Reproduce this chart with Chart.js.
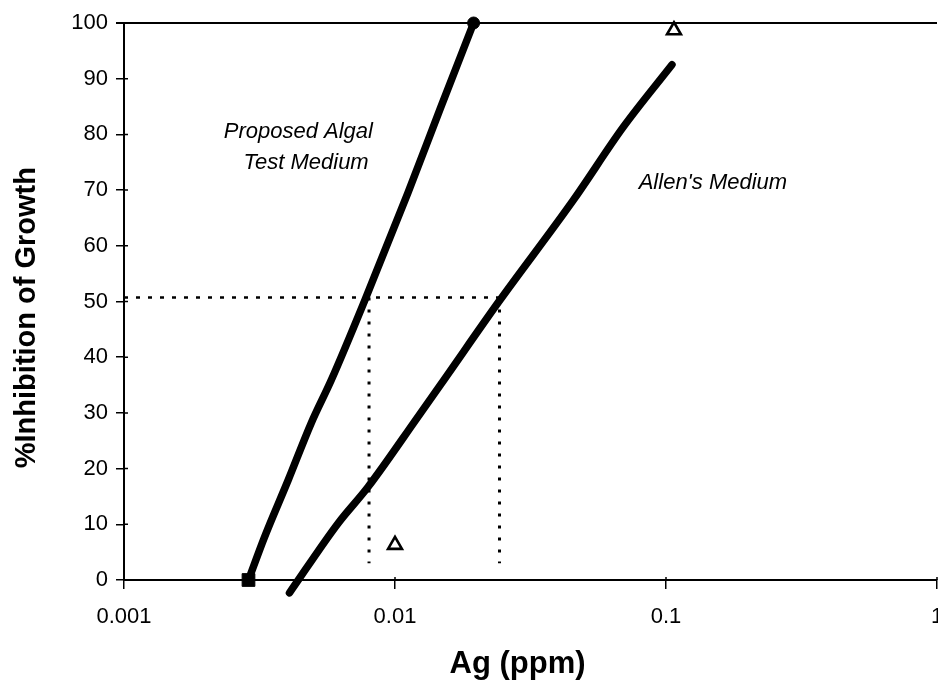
<!DOCTYPE html>
<html>
<head>
<meta charset="utf-8">
<script src="https://cdn.jsdelivr.net/npm/chart.js@4.4.0/dist/chart.umd.min.js"></script>
<style>
  body { margin: 0; background: #fff; overflow: hidden; }
  #wrap { position: relative; width: 960px; height: 688px; }
</style>
</head>
<body>
<div id="wrap"><canvas id="inhibChart"></canvas></div>
<script>
// Proposed Algal Test Medium curve
const propX = [0.00288, 0.0033, 0.00404, 0.00491, 0.00582, 0.00769, 0.01116, 0.01476, 0.0195];
const propY = [0, 7.7, 18, 28.2, 35.9, 49.9, 69.5, 84.9, 100];

// Allen's Medium curve
const allenX = [0.00408, 0.00617, 0.00795, 0.01215, 0.01514, 0.0241, 0.0455, 0.0695, 0.1052];
const allenY = [-2.3, 10.2, 16.7, 29.3, 35.9, 49.9, 68.2, 81.3, 92.5];

// open triangles
const obsX = [0.01, 0.107];
const obsY = [6.3, 98.7];

// EC50 guide lines
const ec50 = 50.7;
const ec50X = [0.00802, 0.0243];
const guideBottom = 3;

const xTicks = [0.001, 0.01, 0.1, 1];
const yTicks = [0, 10, 20, 30, 40, 50, 60, 70, 80, 90, 100];

const toPts = (xs, ys) => xs.map((x, i) => ({ x: x, y: ys[i] }));

// Start Labels Plugin
const curveLabels = {
  id: 'curveLabels',
  afterDatasetsDraw(chart) {
    const { ctx, scales: { x, y } } = chart;
    ctx.save();
    ctx.fillStyle = '#000';
    ctx.font = 'italic 22px "Liberation Sans", Arial, sans-serif';
    ctx.textAlign = 'center';
    ctx.textBaseline = 'middle';
    ctx.fillText('Proposed Algal', x.getPixelForValue(0.0044), y.getPixelForValue(80.4));
    ctx.fillText('Test Medium', x.getPixelForValue(0.0047), y.getPixelForValue(74.9));
    ctx.fillText("Allen's Medium", x.getPixelForValue(0.149), y.getPixelForValue(71.3));

    // small inner part of the tick marks
    ctx.strokeStyle = '#000';
    ctx.lineWidth = 1.5;
    ctx.beginPath();
    xTicks.forEach(v => {
      const px = x.getPixelForValue(v);
      ctx.moveTo(px, y.bottom);
      ctx.lineTo(px, y.bottom - 3);
    });
    yTicks.forEach(v => {
      const py = y.getPixelForValue(v);
      ctx.moveTo(x.left, py);
      ctx.lineTo(x.left + 4, py);
    });
    ctx.stroke();
    ctx.restore();
  }
};
// End Labels Plugin

const chart_ctx = document.getElementById('inhibChart');

const inhibChart = new Chart(chart_ctx, {
  type: 'line',
  data: {
    datasets: [
      {
        label: 'Proposed Algal Test Medium',
        data: toPts(propX, propY),
        borderColor: '#000',
        backgroundColor: '#000',
        borderWidth: 7.5,
        borderCapStyle: 'round',
        cubicInterpolationMode: 'monotone',
        clip: false,
        pointStyle: c => (c.dataIndex === 0 ? 'rect' : 'circle'),
        pointRadius: c => (c.dataIndex === 0 ? 9 : (c.dataIndex === propX.length - 1 ? 6 : 0)),
        pointBorderWidth: 1,
      },
      {
        label: "Allen's Medium",
        data: toPts(allenX, allenY),
        borderColor: '#000',
        borderWidth: 7.5,
        borderCapStyle: 'round',
        cubicInterpolationMode: 'monotone',
        clip: false,
        pointRadius: 0,
      },
      {
        label: 'Observed',
        data: toPts(obsX, obsY),
        showLine: false,
        clip: false,
        pointStyle: 'triangle',
        pointRadius: 8,
        pointBorderWidth: 2.6,
        borderColor: '#000',
        backgroundColor: '#fff',
      },
      {
        label: 'EC50 level',
        data: [{ x: xTicks[0], y: ec50 }, { x: ec50X[1] + 0.0004, y: ec50 }],
        borderColor: '#000',
        borderWidth: 2.5,
        borderDash: [4, 8],
        pointRadius: 0,
      },
      {
        label: 'EC50 proposed',
        data: [{ x: ec50X[0], y: ec50 }, { x: ec50X[0], y: guideBottom }],
        borderColor: '#000',
        borderWidth: 3,
        borderDash: [3, 9],
        pointRadius: 0,
      },
      {
        label: 'EC50 Allen',
        data: [{ x: ec50X[1], y: ec50 }, { x: ec50X[1], y: guideBottom }],
        borderColor: '#000',
        borderWidth: 3,
        borderDash: [3, 9],
        pointRadius: 0,
      },
    ],
  },
  options: {
    responsive: true,
    maintainAspectRatio: false,
    animation: false,
    layout: {
      padding: { top: 23, right: 23, left: 0, bottom: 0 },
    },
    scales: {
      x: {
        type: 'logarithmic',
        min: 0.001,
        max: 1,
        afterBuildTicks: s => { s.ticks = xTicks.map(v => ({ value: v })); },
        afterFit: s => { s.height = 108; },
        ticks: {
          color: '#000',
          font: { family: '"Liberation Sans", Arial, sans-serif', size: 22 },
          padding: 15,
          maxRotation: 0,
          callback: v => String(v),
        },
        grid: {
          drawOnChartArea: false,
          color: '#000',
          tickLength: 9,
          lineWidth: 1.5,
        },
        border: { color: '#000', width: 2 },
        title: {
          display: true,
          text: 'Ag (ppm)   ',
          color: '#000',
          font: { family: '"Liberation Sans", Arial, sans-serif', size: 31, weight: 'bold' },
          padding: { top: 0, bottom: 5 },
        },
      },
      y: {
        min: 0,
        max: 100,
        afterFit: s => { s.width = 124; },
        ticks: {
          stepSize: 10,
          color: '#000',
          font: { family: '"Liberation Sans", Arial, sans-serif', size: 22 },
          padding: 8,
        },
        grid: {
          color: c => (c.tick && c.tick.value === 100 ? '#000' : 'rgba(0,0,0,0)'),
          tickColor: '#000',
          lineWidth: c => (c.tick && c.tick.value === 100 ? 2 : 1.5),
          tickLength: 8,
        },
        border: { color: '#000', width: 2 },
        title: {
          display: true,
          text: '%Inhibition of Growth    ',
          color: '#000',
          font: { family: '"Liberation Sans", Arial, sans-serif', size: 29, weight: 'bold' },
          padding: { top: 10, bottom: 0 },
        },
      },
    },
    plugins: {
      legend: { display: false },
      tooltip: { enabled: false },
    },
  },
  plugins: [curveLabels],
});
</script>
</body>
</html>
